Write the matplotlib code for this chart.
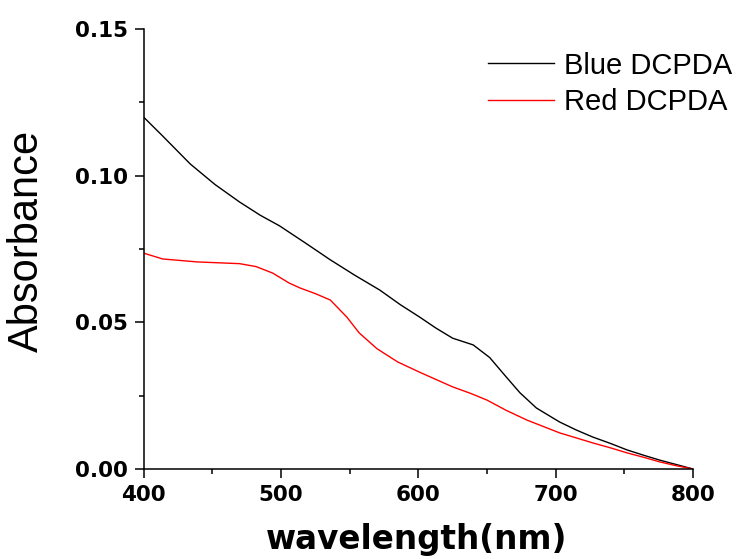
import matplotlib
matplotlib.use("Agg")
import matplotlib.pyplot as plt
from matplotlib.ticker import MultipleLocator

# values
blue_wl = [400, 414, 434, 452, 470, 485, 499, 518, 536, 554, 572, 587, 601, 613, 625, 640,
           652, 664, 674, 686, 698, 703, 715, 727, 740, 752, 764, 776, 788, 800]
blue_abs = [0.120, 0.1135, 0.104, 0.097, 0.091, 0.0865, 0.0829, 0.077, 0.0713, 0.066, 0.061,
            0.056, 0.0518, 0.048, 0.0446, 0.0423, 0.038, 0.0314, 0.026, 0.0208, 0.0174,
            0.016, 0.0133, 0.0109, 0.0087, 0.0065, 0.0047, 0.003, 0.0015, 0.0]

red_wl = [400, 414, 439, 470, 482, 494, 506, 514, 525, 536, 548, 557, 570, 585, 601, 613,
          625, 638, 650, 664, 679, 691, 703, 715, 727, 740, 752, 764, 776, 788, 800]
red_abs = [0.0736, 0.0716, 0.0706, 0.0700, 0.0690, 0.0668, 0.0634, 0.0617, 0.0598, 0.0576,
           0.0518, 0.0464, 0.0410, 0.0365, 0.0330, 0.0305, 0.0280, 0.0258, 0.0235, 0.0200,
           0.0167, 0.0145, 0.0123, 0.0106, 0.0089, 0.0072, 0.0055, 0.0040, 0.0024, 0.0011, 0.0]

series_labels = ["Blue DCPDA", "Red DCPDA"]

fig = plt.figure(figsize=(7.36, 5.59), dpi=100)
ax = fig.add_axes([143.5 / 736, 1 - 469 / 559, (693 - 143.5) / 736, (469 - 29) / 559])

ax.plot(blue_wl, blue_abs, color="black", lw=1.0, label=series_labels[0])
ax.plot(red_wl, red_abs, color="#ff0000", lw=1.0, label=series_labels[1])

ax.set_xlim(400, 800)
ax.set_ylim(0, 0.15)
ax.xaxis.set_major_locator(MultipleLocator(100))
ax.xaxis.set_minor_locator(MultipleLocator(50))
ax.yaxis.set_major_locator(MultipleLocator(0.05))
ax.yaxis.set_minor_locator(MultipleLocator(0.025))
ax.yaxis.set_major_formatter(plt.FormatStrFormatter("%.2f"))

for side in ["top", "right"]:
    ax.spines[side].set_visible(False)
for side in ["left", "bottom"]:
    ax.spines[side].set_linewidth(1.1)

ax.tick_params(which="major", direction="out", length=6.5, width=1.1, pad=5)
ax.tick_params(which="minor", direction="out", length=3.3, width=1.1)
for lab in ax.get_xticklabels() + ax.get_yticklabels():
    lab.set_fontfamily("DejaVu Sans")
    lab.set_fontweight("bold")
    lab.set_fontsize(15.5)

ax.set_xlabel("wavelength(nm)", fontsize=23.5, fontweight="bold", family="DejaVu Sans")
ax.set_ylabel("Absorbance", fontsize=30, family="Liberation Sans")
ax.xaxis.set_label_coords(0.497, -0.122)
ax.yaxis.set_label_coords(-0.175, 0.518)

ax.legend(loc="upper right", bbox_to_anchor=(747 / 736, 1 - 37 / 559),
          bbox_transform=fig.transFigure, frameon=False, borderpad=0,
          prop={"family": "Liberation Sans", "size": 21},
          handlelength=2.28, handletextpad=0.34, labelspacing=0.28)

fig.savefig("out.png", dpi=100)
